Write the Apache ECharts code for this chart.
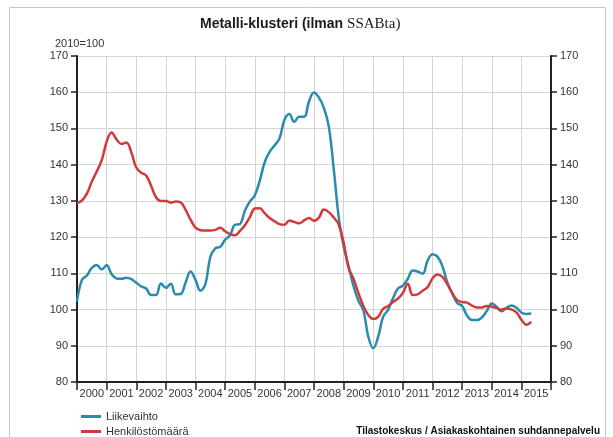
<!DOCTYPE html>
<html>
<head>
	<meta charset="utf-8">
	<title>Metalli-klusteri</title>
	<script src="https://cdn.jsdelivr.net/npm/echarts@6/dist/echarts.min.js" type="text/javascript"></script>
	<style>
		html, body { margin: 0; padding: 0; background: #fff; }
		#main { width: 613px; height: 437px; }
	</style>
</head>
<body>
<div id="main"></div>
<script>
	// vuodet (x-akselin luokat)
	var years = ['2000', '2001', '2002', '2003', '2004', '2005', '2006', '2007',
		'2008', '2009', '2010', '2011', '2012', '2013', '2014', '2015'];

	// arvot joka toinen kuukausi, alkaen 1/2000 (2010=100)
	var liikevaihto = [
		102.2, 108.2, 109.4, 111.5, 112.3, 111.1, 112.2, 109.8, 108.6, 108.5,
		108.8, 108.4, 107.4, 106.4, 105.8, 104.0, 104.0, 107.2, 106.0, 107.1,
		104.2, 104.3, 107.5, 110.5, 108.2, 105.2, 107.0, 114.5, 116.9, 117.3,
		119.3, 120.5, 123.4, 123.6, 127.3, 129.8, 131.5, 135.5, 140.6, 143.5,
		145.3, 147.2, 152.3, 154.0, 151.8, 153.2, 153.2, 157.5, 159.9, 158.5,
		155.7, 150.5, 138.8, 125.6, 117.5, 112.0, 106.5, 102.4, 99.8, 92.5,
		89.3, 92.5, 98.0, 99.9, 103.1, 105.8, 106.6, 108.5, 110.8, 110.5,
		109.9, 113.5, 115.3, 114.6, 112.0, 107.5, 104.4, 101.8, 101.0, 98.3,
		97.1, 97.1, 97.8, 99.6, 101.7, 100.7, 99.5, 100.5, 101.1, 100.5,
		99.2, 98.8, 98.9
	];
	var henkilostomaara = [
		129.4, 130.1, 132.0, 135.3, 138.1, 141.2, 146.3, 148.9, 147.0, 145.7,
		146.1, 143.4, 139.2, 137.8, 137.0, 134.2, 131.0, 130.0, 130.0, 129.5,
		129.8, 129.6, 127.5, 124.8, 122.6, 121.9, 121.8, 121.8, 122.0, 122.6,
		121.6, 120.8, 120.5, 121.7, 123.3, 125.5, 127.9, 128.0, 126.6, 125.3,
		124.4, 123.6, 123.4, 124.6, 124.2, 123.8, 124.6, 125.3, 124.5, 125.4,
		127.6, 126.9, 125.4, 123.5, 118.5, 111.5, 108.5, 104.5, 101.0, 98.5,
		97.4, 98.0, 100.2, 101.0, 102.1, 103.0, 104.6, 107.1, 104.0, 104.2,
		105.2, 106.2, 108.6, 109.7, 109.0, 107.0, 104.6, 102.6, 102.1, 101.9,
		101.1, 100.6, 100.6, 101.0, 100.8, 100.4, 100.0, 100.3, 100.0, 99.2,
		97.2, 95.8, 96.6
	];
	var stepMonths = 2;

	function toPoints(arr) {
		return arr.map(function (v, i) { return [i * stepMonths, v]; });
	}

	var font = 'Liberation Sans, Arial, sans-serif';
	var blue = '#2a8bb0';
	var red = '#d03a3a';
	var myChart = echarts.init(document.getElementById('main'));

	function legendItem(name, top) {
		return {
			left: 76,
			top: top,
			itemWidth: 20,
			itemHeight: 3,
			icon: 'rect',
			textStyle: { fontFamily: font, fontSize: 11, color: '#333' },
			data: [name]
		};
	}

	var yAxisBase = {
		type: 'value',
		min: 80,
		max: 170,
		interval: 10,
		axisLine: { show: true, lineStyle: { color: '#222', width: 2 } },
		axisTick: { show: true, length: 6, lineStyle: { color: '#222', width: 1.5 } },
		axisLabel: { color: '#333', fontSize: 11, margin: 9 }
	};

	var option = {
		animation: false,
		textStyle: { fontFamily: font },
		title: {
			left: 195,
			top: 12,
			text: '{a|Metalli-klusteri (ilman }{b|SSABta)}',
			textStyle: {
				rich: {
					a: { fontFamily: font, fontWeight: 'bold', fontSize: 14, color: '#1a1a1a' },
					b: { fontFamily: 'Liberation Serif, serif', fontWeight: 'normal', fontSize: 15, color: '#1a1a1a' }
				}
			}
		},
		graphic: [
			{
				type: 'rect',
				shape: { x: 9.5, y: 7.5, width: 596, height: 440 },
				style: { fill: 'none', stroke: '#c8c8c8', lineWidth: 1 },
				silent: true
			},
			{
				type: 'text', left: 55, top: 38,
				style: { text: '2010=100', fontFamily: font, fontSize: 11, fill: '#333' }
			},
			{
				type: 'text', right: 13, top: 426,
				style: { text: 'Tilastokeskus / Asiakaskohtainen suhdannepalvelu', fontFamily: font, fontSize: 10, fontWeight: 'bold', fill: '#111' }
			}
		],
		legend: [
			legendItem('Liikevaihto', 406),
			legendItem('Henkilöstömäärä', 421)
		],
		grid: { left: 77, right: 62, top: 56, bottom: 55 },
		xAxis: [
			{
				type: 'category',
				data: years,
				boundaryGap: true,
				axisLine: { lineStyle: { color: '#222', width: 2 } },
				axisTick: { show: true, interval: 0, length: 8, lineStyle: { color: '#222', width: 1.5 } },
				axisLabel: { interval: 0, color: '#333', fontSize: 11, margin: 6 },
				splitLine: { show: true, interval: 0, lineStyle: { color: '#d4d4d4', width: 1 } }
			},
			{
				type: 'value',
				min: 0,
				max: 192,
				show: false
			}
		],
		yAxis: [
			Object.assign({}, yAxisBase, {
				position: 'left',
				splitLine: { show: true, lineStyle: { color: '#d4d4d4', width: 1 } }
			}),
			Object.assign({}, yAxisBase, {
				position: 'right',
				splitLine: { show: false }
			})
		],
		series: [
			{
				name: 'Liikevaihto',
				type: 'line',
				xAxisIndex: 1,
				yAxisIndex: 0,
				smooth: 0.4,
				showSymbol: false,
				lineStyle: { color: blue, width: 2.5 },
				itemStyle: { color: blue },
				data: toPoints(liikevaihto)
			},
			{
				name: 'Henkilöstömäärä',
				type: 'line',
				xAxisIndex: 1,
				yAxisIndex: 0,
				smooth: 0.4,
				showSymbol: false,
				lineStyle: { color: red, width: 2.5 },
				itemStyle: { color: red },
				data: toPoints(henkilostomaara)
			}
		]
	};

	myChart.setOption(option);
</script>
</body>
</html>
